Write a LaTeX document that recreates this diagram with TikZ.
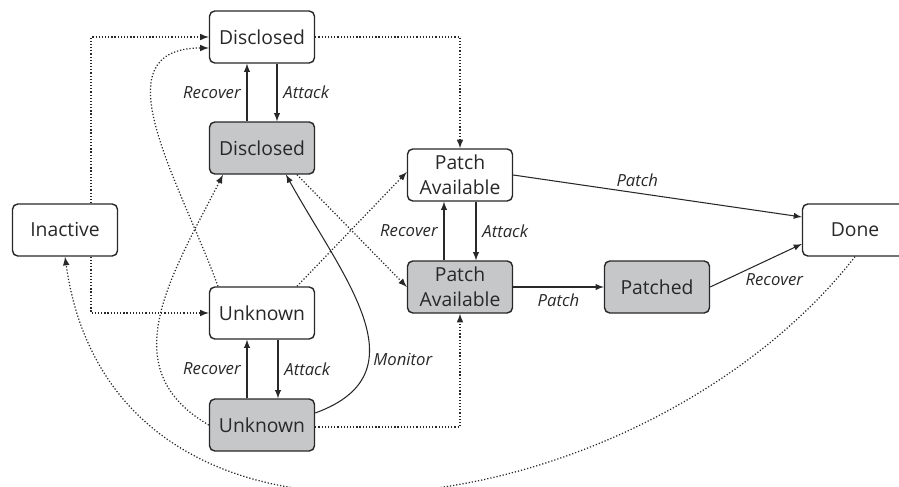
\documentclass[tikz,border=0pt]{standalone}
\usepackage{fontspec}
\setmainfont{Open Sans}
\usepackage{tikz}
\usetikzlibrary{positioning}

\definecolor{stategray}{RGB}{198,199,201}
\definecolor{linegray}{RGB}{40,40,40}

\begin{document}
\begin{tikzpicture}[scale=1,
    state/.style={draw=linegray, line width=0.8pt, rounded corners=3pt, minimum width=2.1cm, minimum height=1.04cm, align=center, font=\fontsize{11}{14}\selectfont, text=linegray},
    hidden/.style={state, fill=stategray},
    trans/.style={->, >=latex, line width=0.6pt, color=linegray},
    leak/.style={trans, line width=0.7pt, dash pattern=on 0.7pt off 1.1pt},
    lbl/.style={font=\fontsize{9.5}{11}\selectfont\itshape, text=linegray}]

    \useasboundingbox (0,0) rectangle (17.98,9.72);
    \clip (0,0) rectangle (17.98,9.72);

    % states
    \node [state]  (discW)   at (5.24,8.98) {Disclosed};
    \node [hidden] (discG)   at (5.24,6.76) {Disclosed};
    \node [state]  (inact)   at (1.30,5.12) {Inactive};
    \node [state]  (unkW)    at (5.24,3.46) {Unknown};
    \node [hidden] (unkG)    at (5.24,1.22) {Unknown};
    \node [state]  (patW)    at (9.20,6.22) {Patch\\Available};
    \node [hidden] (patG)    at (9.20,3.98) {Patch\\Available};
    \node [hidden] (patched) at (13.14,3.98) {Patched};
    \node [state]  (done)    at (17.10,5.12) {Done};

    % attack / recover pairs
    \draw [trans] ([xshift=0.3cm]discW.south) -- node [lbl, right] {Attack} ([xshift=0.3cm]discG.north);
    \draw [trans] ([xshift=-0.3cm]discG.north) -- node [lbl, left] {Recover} ([xshift=-0.3cm]discW.south);
    \draw [trans] ([xshift=0.32cm]unkW.south) -- node [lbl, right] {Attack} ([xshift=0.32cm]unkG.north);
    \draw [trans] ([xshift=-0.3cm]unkG.north) -- node [lbl, left] {Recover} ([xshift=-0.3cm]unkW.south);
    \draw [trans] ([xshift=0.32cm]patW.south) -- node [lbl, right] {Attack} ([xshift=0.32cm]patG.north);
    \draw [trans] ([xshift=-0.32cm]patG.north) -- node [lbl, left] {Recover} ([xshift=-0.32cm]patW.south);

    % patching
    \draw [trans] (patW.east) -- node [lbl, pos=0.43, above] {Patch} ([yshift=0.26cm]done.west);
    \draw [trans] (patG.east) -- node [lbl, below] {Patch} (patched.west);
    \draw [trans] (patched.east) -- node [lbl, pos=0.7, below=6pt] {Recover} ([yshift=-0.28cm]done.west);
    \draw [trans] ([yshift=0.24cm]unkG.east) to [out=20, in=-61, looseness=1.25]
        node [lbl, pos=0.32, right=-1pt] {Monitor} ([xshift=0.48cm]discG.south);

    % dotted transitions
    \draw [leak] ([xshift=0.52cm]inact.north) |- (discW.west);
    \draw [leak] ([xshift=0.52cm]inact.south) |- (unkW.west);
    \draw [leak] (discW.east) -| (patW.north);
    \draw [leak] ([yshift=-0.04cm]unkG.east) -| (patG.south);
    \draw [leak] ([xshift=0.7cm]unkW.north) -- ([yshift=0.06cm]patW.west);
    \draw [leak] ([xshift=0.7cm]discG.south) -- (patG.west);
    \draw [leak] ([xshift=-0.88cm]unkW.north) to [out=110, in=180, looseness=1.2] ([yshift=-0.22cm]discW.west);
    \draw [leak] (unkG.west) to [out=150, in=243, looseness=1.15] ([xshift=-0.78cm]discG.south);
    \draw [leak] (done.south) .. controls +(232:6.8cm) and +(278:7.2cm) .. (inact.south);

\end{tikzpicture}
\end{document}
